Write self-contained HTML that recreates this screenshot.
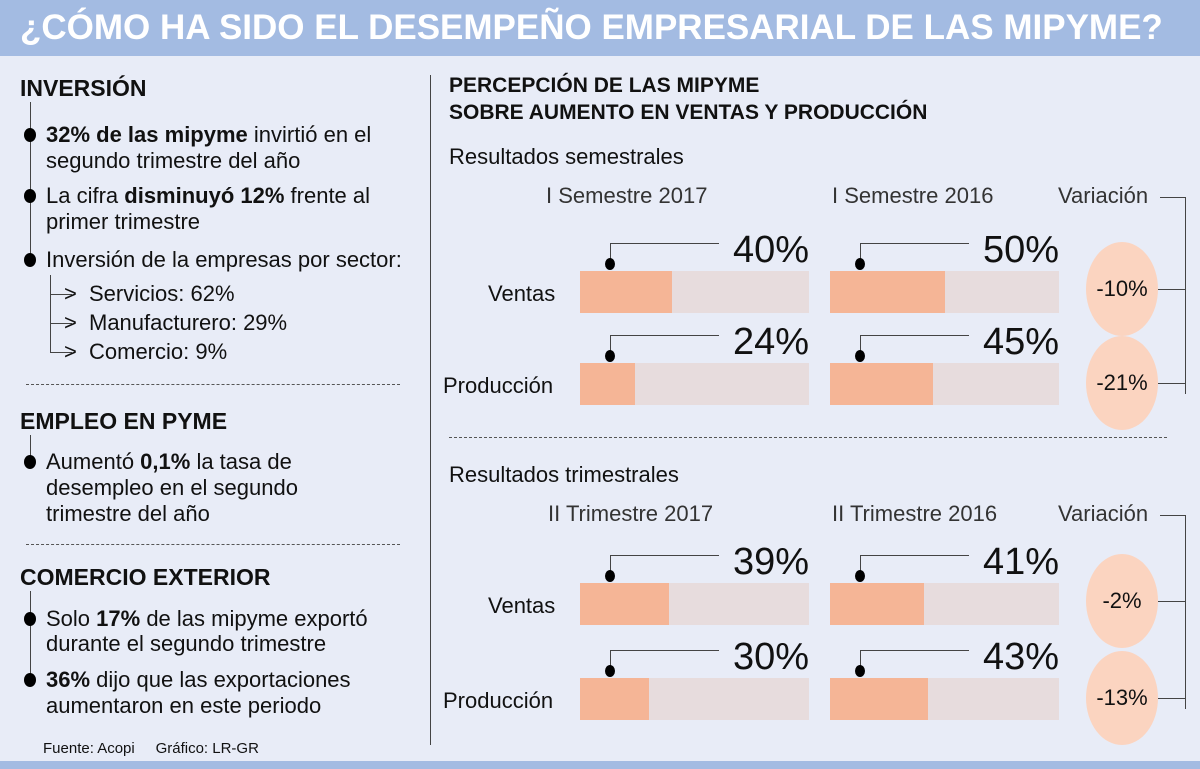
<!DOCTYPE html>
<html><head><meta charset="utf-8">
<style>
body{margin:0;}
#root{position:relative;width:1200px;height:769px;background:#e8ecf7;overflow:hidden;font-family:"Liberation Sans Narrow","Liberation Sans",sans-serif;color:#111;}
.t{position:absolute;white-space:nowrap;line-height:1;}
.b{font-weight:bold;}
.txt{font-size:22px;}
.h{font-size:23px;font-weight:bold;}
.dash{position:absolute;border-top:1.5px dashed #555;height:0;}
.dot{position:absolute;width:12px;height:14px;border-radius:50%;background:#000;}
.vl{position:absolute;width:1px;background:#444;}
.hl{position:absolute;height:1px;background:#444;}
</style></head><body>
<div id="root">
<div style="position:absolute;left:0;top:0;width:1200px;height:56px;background:#a3bbe2;"></div>
<div class="t b" style="left:20px;top:10px;font-size:35px;color:#fff;">¿CÓMO HA SIDO EL DESEMPEÑO EMPRESARIAL DE LAS MIPYME?</div>
<div style="position:absolute;left:0;top:761px;width:1200px;height:8px;background:#a3bbe2;"></div>
<div class="vl" style="left:430px;top:75px;height:670px;"></div>

<div class="t h" style="left:20px;top:77px;">INVERSIÓN</div>
<div class="vl" style="left:30px;top:102px;height:160px;"></div>
<div class="dot" style="left:24px;top:128px;"></div>
<div class="t txt" style="left:46px;top:124px;"><b>32% de las mipyme</b> invirtió en el</div>
<div class="t txt" style="left:46px;top:150px;">segundo trimestre del año</div>
<div class="dot" style="left:24px;top:189px;"></div>
<div class="t txt" style="left:46px;top:185px;">La cifra <b>disminuyó 12%</b> frente al</div>
<div class="t txt" style="left:46px;top:211px;">primer trimestre</div>
<div class="dot" style="left:24px;top:253px;"></div>
<div class="t txt" style="left:46px;top:249px;">Inversión de la empresas por sector:</div>
<div class="vl" style="left:50px;top:275px;height:78px;"></div>
<div class="hl" style="left:50px;top:294px;width:22px;"></div>
<div class="hl" style="left:50px;top:323px;width:22px;"></div>
<div class="hl" style="left:50px;top:352px;width:22px;"></div>
<div class="t txt" style="left:64px;top:283px;">&gt;</div>
<div class="t txt" style="left:64px;top:312px;">&gt;</div>
<div class="t txt" style="left:64px;top:341px;">&gt;</div>
<div class="t txt" style="left:89px;top:283px;">Servicios: 62%</div>
<div class="t txt" style="left:89px;top:312px;">Manufacturero: 29%</div>
<div class="t txt" style="left:89px;top:341px;">Comercio: 9%</div>
<div class="dash" style="left:26px;top:384px;width:374px;"></div>
<div class="t h" style="left:20px;top:410px;">EMPLEO EN PYME</div>
<div class="vl" style="left:30px;top:435px;height:25px;"></div>
<div class="dot" style="left:24px;top:455px;"></div>
<div class="t txt" style="left:46px;top:451px;">Aumentó <b>0,1%</b> la tasa de</div>
<div class="t txt" style="left:46px;top:477px;">desempleo en el segundo</div>
<div class="t txt" style="left:46px;top:503px;">trimestre del año</div>
<div class="dash" style="left:26px;top:544px;width:374px;"></div>
<div class="t h" style="left:20px;top:566px;">COMERCIO EXTERIOR</div>
<div class="vl" style="left:30px;top:591px;height:90px;"></div>
<div class="dot" style="left:24px;top:612px;"></div>
<div class="t txt" style="left:46px;top:608px;">Solo <b>17%</b> de las mipyme exportó</div>
<div class="t txt" style="left:46px;top:633px;">durante el segundo trimestre</div>
<div class="dot" style="left:24px;top:673px;"></div>
<div class="t txt" style="left:46px;top:669px;"><b>36%</b> dijo que las exportaciones</div>
<div class="t txt" style="left:46px;top:695px;">aumentaron en este periodo</div>
<div class="t" style="left:43px;top:741px;font-size:15px;">Fuente: Acopi&nbsp;&nbsp;&nbsp;&nbsp; Gráfico: LR-GR</div>

<div class="t b" style="left:449px;top:75px;font-size:21px;">PERCEPCIÓN DE LAS MIPYME</div>
<div class="t b" style="left:449px;top:102px;font-size:21px;">SOBRE AUMENTO EN VENTAS Y PRODUCCIÓN</div>
<div class="dash" style="left:449px;top:437px;width:718px;"></div>
<div id="chart"></div>
</div>
<script>
const sections=["Resultados semestrales","Resultados trimestrales"];
const colHeads=[["I Semestre 2017","I Semestre  2016"],["II Trimestre 2017","II Trimestre 2016"]];
const rowLabels=["Ventas","Producción"];
const valsCurrent=[[40,24],[39,30]];
const valsPrev=[[50,45],[41,43]];
const variation=[["-10%","-21%"],["-2%","-13%"]];

const root=document.getElementById('chart');
const secTop=[146,464];
const rowBar=[[271,363],[583,678]];
const colX=[580,830];
const barW=229, barH=42;
const xs=v=>v/100*barW;
function add(cls,style,text,name){
  const d=document.createElement('div');d.className=cls;d.style.cssText=style;if(text!==undefined)d.innerHTML=text;
  
  
  root.appendChild(d);return d;
}
sections.forEach((s,si)=>{
  const top=secTop[si];
  add('t txt',`left:449px;top:${top}px;`,s,'section-title');
  add('t txt',`left:${si?548:546}px;top:${top+39}px;color:#333;`,colHeads[si][0],'column-heading');
  add('t txt',`left:832px;top:${top+39}px;color:#333;`,colHeads[si][1],'column-heading');
  add('t txt',`left:1058px;top:${top+39}px;color:#333;`,'Variación','variation-heading');
  const y1=top+51, y2=rowBar[si][1]+barH/2+10;
  add('hl',`left:1160px;top:${y1}px;width:25px;`,undefined,'bracket-top');
  add('vl',`left:1185px;top:${y1}px;height:${y2-y1}px;`,undefined,'bracket-vertical');
  rowLabels.forEach((r,ri)=>{
    const by=rowBar[si][ri];
    add('t txt',`left:${ri?443:488}px;top:${by+12}px;`,r,'row-label');
    [valsCurrent[si][ri],valsPrev[si][ri]].forEach((v,ci)=>{
      const x=colX[ci];
      add('',`position:absolute;left:${x}px;top:${by}px;width:${barW}px;height:${barH}px;background:#e7dcdd;`,undefined,'bar-track');
      add('',`position:absolute;left:${x}px;top:${by}px;width:${xs(v)}px;height:${barH}px;background:#f5b596;`,undefined,'bar-value');
      add('t',`left:${x+barW-110}px;width:110px;text-align:right;top:${by-40}px;font-size:38px;`,v+'%','value-label');
      add('hl',`left:${x+30}px;top:${by-28}px;width:${barW-120}px;`,undefined,'leader-line');
      add('vl',`left:${x+30}px;top:${by-28}px;height:20px;`,undefined,'leader-line');
      add('dot',`left:${x+25}px;top:${by-13}px;width:10px;height:12px;`,undefined,'leader-dot');
    });
    const cy=ri? by+20 : by+18;
    add('',`position:absolute;left:1086px;top:${cy-47}px;width:72px;height:94px;border-radius:50%;background:#fbd4c0;`,undefined,'variation-circle');
    add('t txt',`left:1086px;width:72px;text-align:center;top:${cy-11}px;`,variation[si][ri],'variation-value');
    add('hl',`left:1158px;top:${cy}px;width:27px;`,undefined,'bracket-tick');
  });
});
</script>
</body></html>
